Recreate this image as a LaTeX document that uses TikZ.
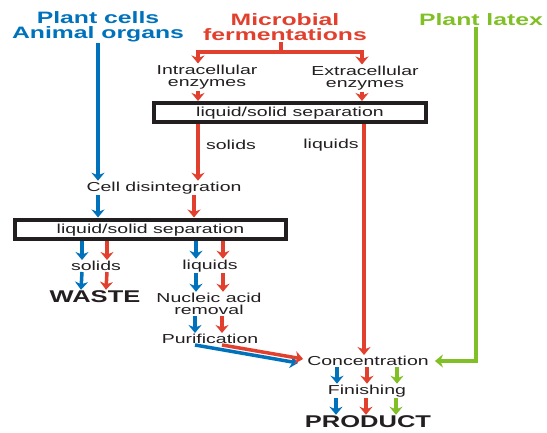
\documentclass[tikz,border=0pt]{standalone}
\usepackage{fontspec}
\setmainfont{Liberation Sans}[FakeStretch=1.5]
\usetikzlibrary{arrows.meta}
\definecolor{pblue}{RGB}{0,114,188}
\definecolor{pred}{RGB}{226,64,46}
\definecolor{pgreen}{RGB}{128,192,38}
\definecolor{ink}{RGB}{35,31,32}

\begin{document}
\begin{tikzpicture}
	[x=1pt, y=-1pt,
	every node/.style={inner sep=1pt, text=ink, align=center,
		font=\fontsize{13}{12.5}\selectfont},
	head/.style={font=\bfseries\fontsize{16.5}{15}\selectfont},
	big/.style={font=\bfseries\fontsize{17}{18}\selectfont},
	sepbox/.style={draw=ink, line width=4pt, minimum height=19pt, inner sep=0pt,
		text height=9.5pt, text depth=1pt},
	flow/.style={line width=3.5pt, -{Stealth[length=8pt,width=13pt,inset=2.5pt]}},
	bflow/.style={flow, pblue},
	rflow/.style={flow, pred},
	gflow/.style={flow, pgreen}]
	\useasboundingbox (0,0) rectangle (547,432);
	\node (cells) [head, text=pblue] at (98,27) {Plant cells\\Animal organs};
	\node (ferm) [head, text=pred] at (285,27) {Microbial\\fermentations};
	\node (latex) [head, text=pgreen] at (481,20) {Plant latex};
	\node (intra) at (207,77) {Intracellular\\enzymes};
	\node (extra) at (365,78) {Extracellular\\enzymes};
	\node (sep1) [sepbox, minimum width=272pt] at (290,112.5) {liquid/solid separation};
	\node (sol1) at (231,145) {solids};
	\node (liq1) at (331,145) {liquids};
	\node (celldis) at (164,188) {Cell disintegration};
	\node (sep2) [sepbox, minimum width=271pt] at (150.5,229) {liquid/solid separation};
	\node (sol2) at (96,266) {solids};
	\node (waste) [big] at (95,297) {WASTE};
	\node (liq2) at (210,266) {liquids};
	\node (nucl) at (209,304) {Nucleic acid\\removal};
	\node (purif) at (210,339) {Purification};
	\node (conc) at (368,361) {Concentration};
	\node (fin) at (367,391) {Finishing};
	\node (prod) [big] at (368,422) {PRODUCT};
	\coordinate (split) at (281,52);
	\draw [pred, line width=3.5pt] ([xshift=-4pt]ferm.south) -- (split);
	\draw [rflow] (split) -| ([xshift=-9pt]intra.north);
	\draw [rflow] (split) -| ([xshift=-3pt]extra.north);
	\draw [rflow] ([xshift=-9pt]intra.south) -- ([xshift=-9pt]intra.south |- sep1.north);
	\draw [rflow] ([xshift=-3pt]extra.south) -- ([xshift=-3pt]extra.south |- sep1.north);
	\draw [rflow] ([xshift=-92pt]sep1.south) -- ([xshift=-92pt]sep1.south |- celldis.north);
	\draw [rflow] ([xshift=-4pt]conc.north |- sep1.south) -- ([xshift=-4pt]conc.north);
	\draw [bflow] (cells.south) -- (cells.south |- celldis.north);
	\draw [bflow] (celldis.south -| cells.south) -- (sep2.north -| cells.south);
	\draw [rflow] ([xshift=30pt]celldis.south) -- ([xshift=30pt]celldis.south |- sep2.north);
	\draw [bflow] ([xshift=-14pt]sol2.north |- sep2.south) -- ([xshift=-14pt]sol2.north);
	\draw [rflow] ([xshift=11pt]sol2.north |- sep2.south) -- ([xshift=11pt]sol2.north);
	\draw [bflow] ([xshift=-14pt]sol2.south) -- ([xshift=-14pt]waste.north);
	\draw [rflow] ([xshift=11pt]sol2.south) -- ([xshift=11pt]waste.north);
	\draw [bflow] ([xshift=-14pt]liq2.north |- sep2.south) -- ([xshift=-14pt]liq2.north);
	\draw [rflow] ([xshift=13pt]liq2.north |- sep2.south) -- ([xshift=13pt]liq2.north);
	\draw [bflow] ([xshift=-14pt]liq2.south) -- ([xshift=-14pt]liq2.south |- nucl.north);
	\draw [rflow] ([xshift=13pt]liq2.south) -- ([xshift=13pt]liq2.south |- nucl.north);
	\draw [bflow] ([xshift=-14pt]nucl.south) -- ([xshift=-14pt]nucl.south |- purif.north);
	\draw [rflow] ([xshift=13pt]nucl.south) -- ([xshift=13pt]nucl.south |- purif.north);
	\draw [bflow] ([xshift=-15pt]purif.south) -- ([xshift=-8pt,yshift=-2pt]conc.west);
	\draw [rflow] ([xshift=12pt]purif.south) -- ([xshift=-3pt,yshift=2pt]conc.west);
	\draw [gflow] ([xshift=-5pt]latex.south) |- ([xshift=5pt]conc.east);
	\draw [bflow] ([xshift=-31pt]conc.south) -- ([xshift=-31pt]conc.south |- fin.north);
	\draw [rflow] ([xshift=-1pt]conc.south) -- ([xshift=-1pt]conc.south |- fin.north);
	\draw [gflow] ([xshift=29pt]conc.south) -- ([xshift=29pt]conc.south |- fin.north);
	\draw [bflow] ([xshift=-31pt]fin.south) -- ([xshift=-31pt]fin.south |- prod.north);
	\draw [rflow] ([xshift=-1pt]fin.south) -- ([xshift=-1pt]fin.south |- prod.north);
	\draw [gflow] ([xshift=29pt]fin.south) -- ([xshift=29pt]fin.south |- prod.north);
\end{tikzpicture}
\end{document}
